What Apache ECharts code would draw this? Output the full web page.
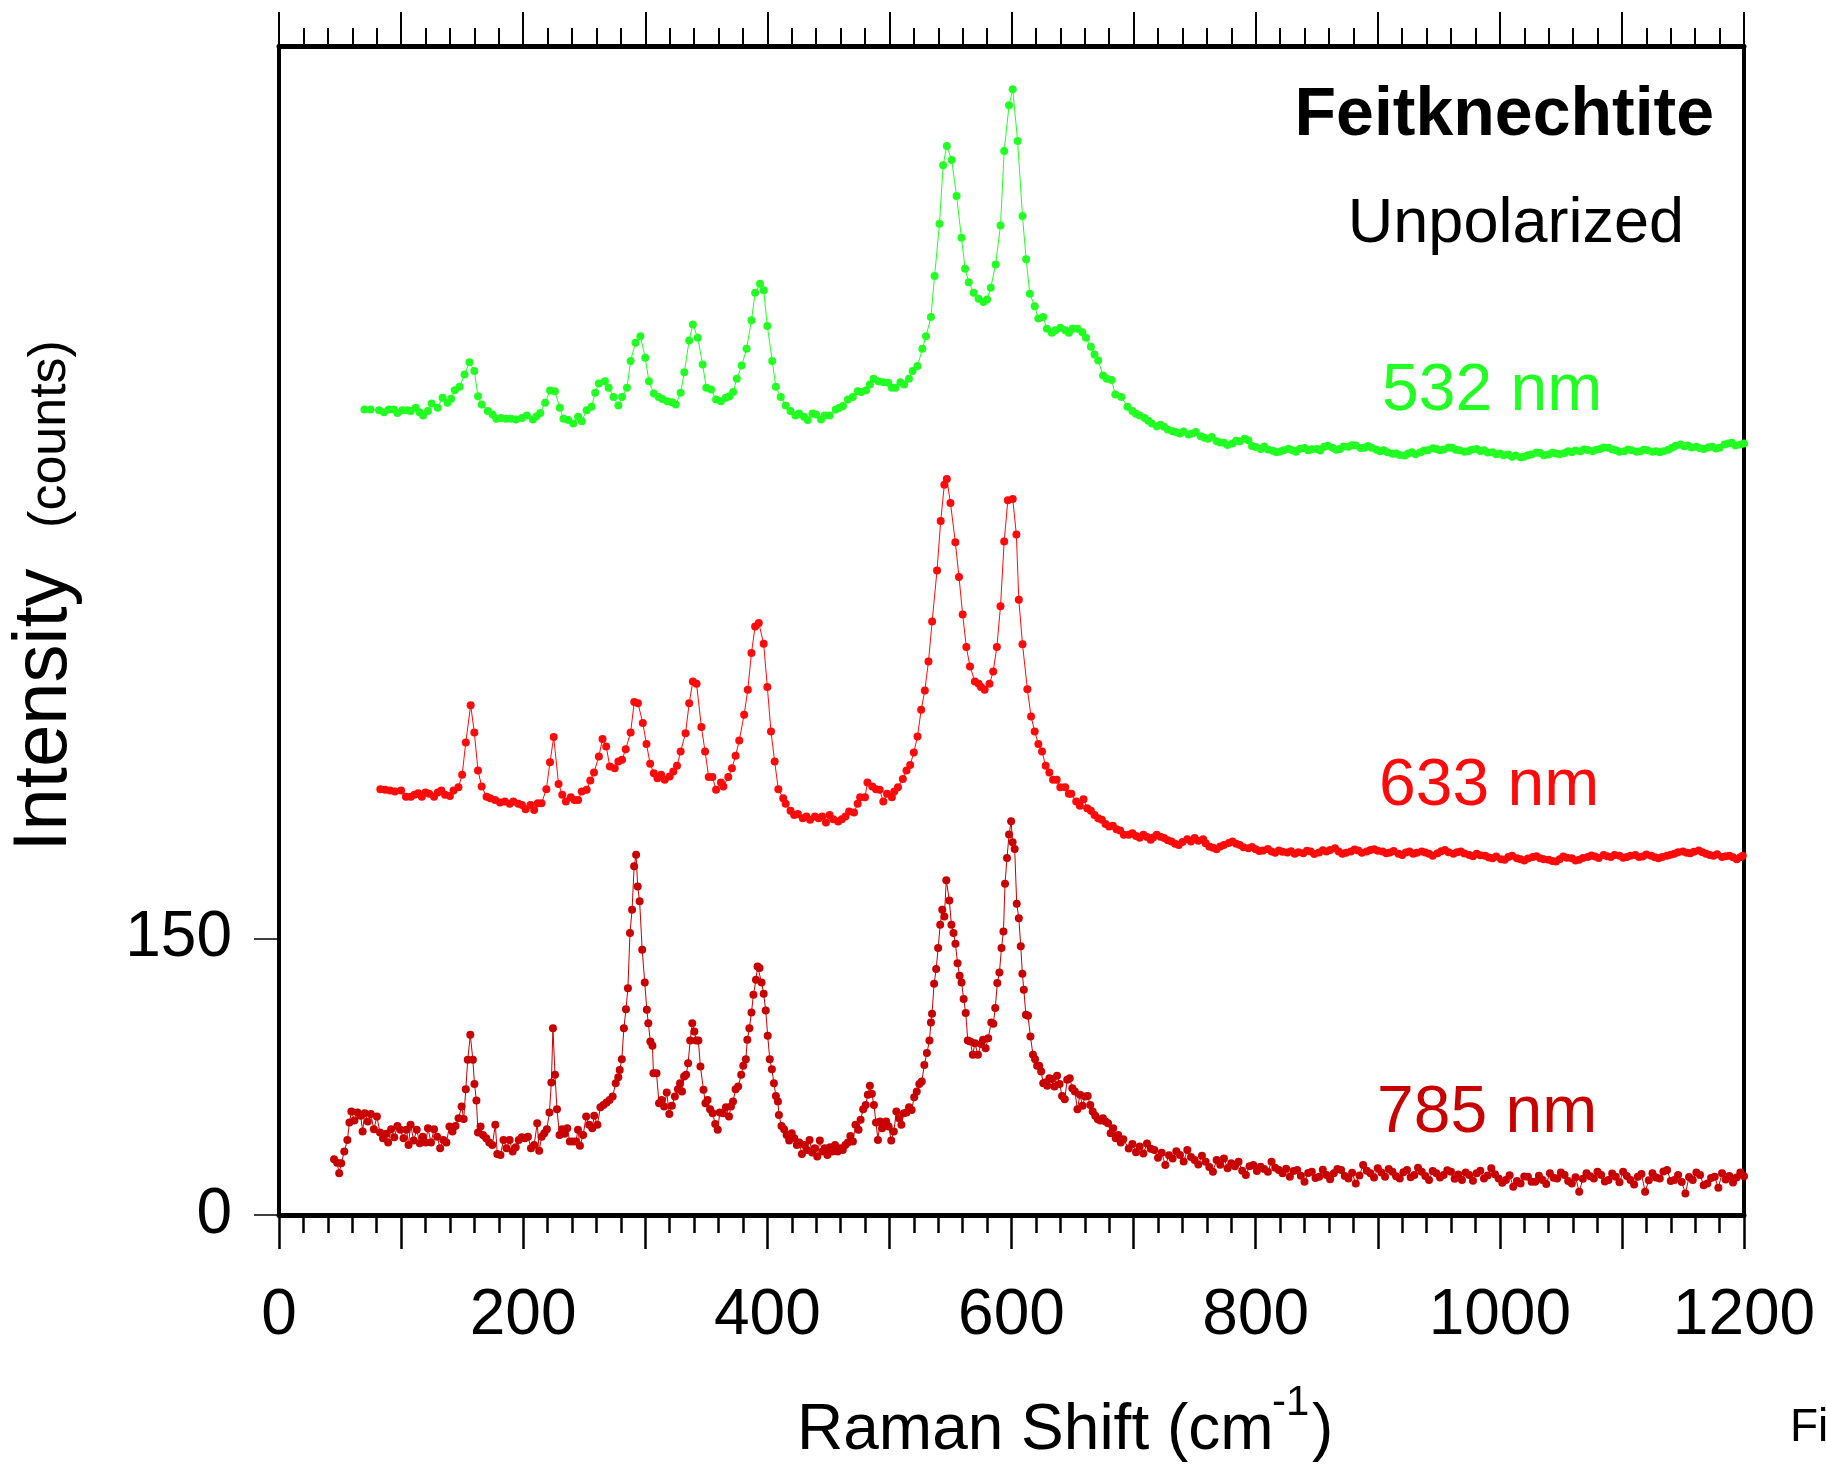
<!DOCTYPE html>
<html><head><meta charset="utf-8">
<script src="https://cdn.jsdelivr.net/npm/echarts@6/dist/echarts.min.js"></script>
<style>html,body{margin:0;padding:0;background:#fff}#c{width:1826px;height:1466px}</style>
</head><body><div id="c"></div>
<script>
// ---- data (Raman shift cm-1, intensity counts incl. vertical offsets as plotted) ----
const x532=[70,75,82,86,90,94,97,101,105,108,112,115,118,122,125,130,134,138,141,144,148,152,156,160,163,166,171,175,178,182,186,190,194,199,203,208,211,214,218,222,226,230,233,237,241,245,248,252,256,259,262,267,270,274,278,281,285,288,292,296,300,303,307,311,314,318,322,325,329,332,336,339,343,347,350,354,358,362,366,369,372,375,379,383,387,390,394,397,400,404,407,411,415,419,423,426,430,433,437,440,444,447,451,456,459,462,466,470,474,477,481,484,487,491,495,499,502,505,509,512,516,519,523,527,530,534,537,541,544,547,551,555,559,562,565,569,573,577,580,583,587,591,594,598,601,605,609,612,615,619,622,626,629,633,636,640,644,647,650,654,658,661,665,668,671,675,678,682,685,690,695,
699,702,705,709,712,715,719,722,725,728,732,735,738,741,745,748,751,755,758,761,764,768,771,774,777,781,784,787,791,794,797,800,804,807,810,814,817,820,823,827,830,833,836,840,843,846,850,853,856,859,863,866,869,872,876,879,882,886,889,892,895,899,902,905,908,912,915,918,922,925,928,931,935,938,941,945,948,951,954,958,961,964,967,971,974,977,981,984,987,990,994,997,1000,1003,1007,1010,1013,1017,1020,1023,1026,1030,1033,1036,1040,1043,1046,1049,1053,1056,1059,1062,1066,1069,1072,1076,1079,1082,1085,1089,1092,1095,1098,1102,1105,1108,1112,1115,1118,1121,1125,1128,1131,1134,1138,1141,1144,1148,1151,1154,1157,1161,1164,1167,1171,1174,1177,1180,1184,1187,1190,1193,1197,1200];
const y532=[436.9,436.9,436.5,435.4,436.9,436.9,435.0,436.5,436.5,436.0,437.8,435.4,433.6,436.0,440.1,437.8,443.2,440.5,442.7,447.3,449.2,455.8,462.5,457.7,444.1,439.6,436.0,434.2,431.8,432.3,431.8,431.8,431.4,432.3,433.6,431.4,433.2,435.0,440.5,447.2,446.8,437.8,431.8,431.1,429.3,432.9,430.5,436.5,438.3,445.9,451.0,452.2,448.6,443.7,439.0,443.7,448.6,463.1,473.0,476.6,464.9,452.2,445.5,443.7,442.6,441.4,440.8,439.6,445.9,457.1,474.3,483.0,475.8,461.3,448.6,447.7,442.3,441.4,443.2,444.1,446.3,453.5,460.7,469.8,485.3,500.2,505.0,501.6,482.1,463.1,449.2,443.7,439.0,436.0,433.6,434.7,432.9,431.1,434.7,434.1,431.4,433.6,433.6,436.9,437.8,438.7,442.3,443.7,446.8,446.3,447.3,450.4,453.5,452.2,451.7,451.3,448.6,448.6,451.7,450.4,453.5,457.7,460.4,469.8,476.6,487.0,509.2,537.6,569.3,579.8,572.2,552.6,530.0,513.2,505.9,500.2,496.9,495.1,496.5,502.9,515.5,536.7,577.1,601.8,610.5,582.5,541.8,518.3,499.6,492.9,486.2,487.0,480.6,478.5,479.9,481.2,479.9,478.5,480.6,480.6,478.8,475.8,470.9,466.7,463.5,455.3,453.5,452.8,445.0,443.7,438.3,
436.0,434.5,433.6,432.3,430.8,429.3,427.8,428.6,427.5,426.0,425.1,424.5,423.8,424.9,423.3,423.9,424.6,422.4,421.5,421.0,422.0,419.7,419.0,418.8,417.6,418.4,419.9,419.7,421.0,420.2,417.0,416.5,415.5,416.8,415.2,414.5,413.7,414.1,414.8,415.6,414.8,414.0,415.5,416.0,414.8,415.3,415.5,414.6,416.6,417.2,416.1,415.0,415.5,416.8,416.6,417.5,417.3,416.0,416.1,417.0,416.1,415.0,414.2,414.8,413.7,412.8,413.0,412.2,411.9,413.0,413.7,412.6,413.7,414.6,414.8,415.9,415.5,414.7,415.2,416.3,416.1,415.0,414.8,413.9,414.2,415.0,415.5,414.4,414.8,413.6,413.7,412.6,413.0,412.1,412.4,411.3,411.9,410.9,411.2,412.0,412.4,413.6,413.3,412.0,412.4,413.4,413.0,412.6,413.3,414.2,413.7,414.6,414.2,415.2,414.9,414.2,415.0,415.5,416.3,416.1,415.3,414.8,414.0,414.2,415.1,414.8,413.9,414.2,415.0,414.8,414.0,414.2,413.7,414.2,415.0,416.1,417.2,417.9,416.9,417.3,416.2,416.6,415.8,415.5,416.4,416.6,415.7,416.1,417.9,418.4,418.8,417.3,417.9,418.4];

const x633=[83,87,91,95,100,104,108,111,114,117,120,123,127,130,133,136,140,143,147,150,153,157,160,163,166,170,173,177,181,185,189,192,196,199,202,206,209,212,215,219,222,225,229,232,235,239,242,245,248,252,255,258,262,265,268,271,275,278,281,284,288,291,294,298,301,304,307,310,313,316,320,323,326,329,333,336,339,342,346,349,352,355,358,362,364,368,371,374,377,381,384,387,390,393,397,400,403,406,409,413,415,419,422,425,429,432,435,439,442,445,448,451,454,458,461,464,467,471,474,476,480,482,486,489,492,495,498,502,504,507,511,514,517,520,523,526,529,532,535,539,542,545,547,550,554,557,560,563,566,570,573,575,578,582,585,588,591,594,597,601,604,606,609,613,616,619,622,625,628,631,634,637,640,644,647,649,653,656,659,662,665,668,671,674,677,680,683,686,689,692,
696,699,702,705,708,711,714,716,719,722,725,728,731,734,737,740,744,747,750,753,757,759,762,765,768,771,774,778,781,784,787,790,794,797,800,803,806,810,813,816,819,822,826,829,832,835,839,842,845,848,852,855,858,861,865,868,871,874,878,881,884,887,891,894,897,900,904,907,910,913,917,920,923,926,929,932,936,939,942,945,949,952,955,958,962,965,968,971,975,978,981,984,988,991,994,997,1001,1004,1007,1010,1014,1017,1020,1023,1027,1030,1033,1036,1040,1043,1046,1049,1052,1055,1059,1062,1065,1068,1072,1075,1078,1081,1085,1088,1091,1094,1098,1101,1104,1107,1111,1114,1117,1120,1124,1127,1130,1133,1137,1140,1143,1146,1150,1153,1156,1159,1163,1166,1169,1172,1175,1178,1182,1185,1188,1191,1194,1197,1199];
const y633=[230.9,230.6,230.2,229.7,230.2,226.9,226.9,227.9,228.8,226.9,229.1,228.4,226.9,229.1,230.2,227.9,227.3,230.2,232.0,238.7,256.3,276.5,261.7,241.1,232.4,226.9,226.0,225.1,223.7,224.2,223.0,224.2,223.0,222.4,220.1,222.4,219.7,223.3,223.3,230.9,245.6,259.2,233.8,227.9,224.2,226.6,225.1,225.1,229.7,230.6,235.6,240.0,248.7,258.1,254.1,243.2,242.3,246.0,246.9,252.6,261.7,278.2,277.6,266.8,255.4,244.7,239.6,236.9,238.7,236.0,237.8,240.5,243.6,251.4,261.3,277.6,289.4,288.1,264.6,251.4,237.5,237.5,230.6,234.6,232.4,237.5,242.3,249.1,257.4,271.3,284.8,304.8,319.2,321.0,309.8,286.3,262.2,245.9,230.9,226.0,223.0,219.3,217.0,217.5,215.2,216.1,214.3,216.1,215.2,216.1,212.9,217.0,214.7,213.4,214.7,216.1,218.8,218.3,223.0,226.6,226.6,234.6,232.4,230.9,230.6,224.2,228.4,226.6,229.7,232.0,236.4,241.1,244.1,250.9,259.5,274.0,284.5,300.2,321.9,349.6,376.4,396.1,399.2,386.2,364.8,346.0,325.7,308.0,297.5,289.4,288.1,286.3,284.8,288.1,294.8,308.0,330.1,365.3,387.6,388.3,369.0,333.7,309.6,285.2,270.4,262.2,255.5,251.4,243.6,240.0,236.0,236.0,232.0,232.0,228.4,228.4,224.2,221.9,225.5,220.6,219.3,217.0,215.2,214.3,212.1,210.7,211.1,209.2,208.5,206.2,
206.2,207.0,205.6,204.6,206.2,205.0,203.5,204.8,206.2,205.1,204.4,203.2,202.5,201.4,200.7,202.3,203.8,202.6,204.4,203.0,203.8,201.6,199.8,199.2,198.4,199.9,200.7,201.8,202.5,201.3,200.7,199.5,198.9,199.6,198.4,197.4,197.7,198.5,197.1,196.4,197.7,197.0,196.6,197.3,195.9,196.8,196.2,197.6,197.1,195.8,196.6,197.8,197.1,198.0,198.9,197.2,195.9,196.4,197.1,198.2,197.7,196.5,197.1,197.9,198.4,197.6,197.1,196.2,196.6,197.4,195.9,195.2,196.6,197.2,195.9,196.4,197.1,196.6,195.9,194.9,196.2,197.3,198.0,196.8,195.9,196.7,197.1,196.0,195.3,194.6,195.9,195.1,194.8,193.9,193.5,194.4,193.0,192.6,194.1,194.8,193.5,193.0,192.2,193.3,194.1,194.6,193.5,192.9,192.6,192.0,191.7,193.0,194.4,193.8,193.5,192.2,192.6,193.6,194.1,195.0,194.4,193.6,195.3,194.6,194.1,195.2,194.8,193.7,194.1,194.9,195.3,194.2,194.4,195.5,194.8,194.0,193.5,194.2,194.8,195.4,195.9,196.8,197.1,196.5,196.2,197.0,197.7,196.8,195.9,195.3,194.8,195.6,194.1,194.6,194.8,194.0,193.0,194.0,194.8];

const x785=[45.1,47.6,49.3,51,53.5,56,57.7,59.3,61.8,64.3,66.9,68.5,70.2,72.7,75.2,77.7,80.2,82.7,85.2,87.8,89.4,91.9,94.4,97,99.4,102,104.5,106.1,107.8,110.3,112.8,115.3,117.8,120.3,122,124.5,127,129.5,132,134.6,137.1,139.6,142.1,144.6,147.1,149.6,151.3,153,154.6,156.7,158.8,160.1,161.7,163,165.1,167.1,169.7,172.2,174.7,177.2,178.8,181.4,183.9,186.4,188.9,191.4,193.9,196.4,198.9,201.4,203.9,206.4,209,211.5,213.1,215.2,217.3,219.4,221.5,223.1,224.4,226.1,227.7,229.8,231.9,234,236.1,238.2,240.7,243.2,244.9,246.5,249.1,251.6,254.1,256.6,258.2,260.8,263.3,265.8,268.3,270.8,273.3,275.8,277.9,279.1,280.8,282.5,284.2,285.8,287.5,289.2,290.9,292.5,293.8,295.4,297.5,299.6,301.3,302.5,304.2,305.9,306.7,309.2,311.3,313.4,315.5,317.6,319.7,321.8,324.3,326.8,328.5,330.1,331.8,333.5,335.1,336.8,338.5,340.2,341.8,343.5,345.2,347.7,349.3,351,353.1,355.2,357.3,359.4,361.1,363.6,366.1,368.6,370.2,371.9,374,376.1,378.6,380.3,382.4,383.6,385.3,387,388.6,390.7,392,393.6,395.3,397,398.7,400.3,402,403.7,405.4,407,408.7,409.5,411.6,413.7,415.8,417.9,420,422.1,424.2,426.2,428.3,430.4,432.5,434.6,436.7,438.8,440.9,443,445.1,447.1,449.2,451.3,453.4,455.5,457.6,459.7,461.8,463.9,466,468,470.1,472.2,474.7,476.4,478.5,480.6,482.3,484,485.6,487.3,489,490.6,492.3,494,495.7,497.3,499.4,501.5,503.6,505.7,507.8,509.8,511.9,514,516.1,518.2,520.3,522.4,524.5,526.5,528.6,530.7,532.8,534,534.9,536.6,538.3,539.9,541.6,543.3,545,546.6,549.1,550.8,552.5,554.1,555.8,557.5,559.1,560.8,562.5,564.2,566.2,568.3,570,572.5,575.1,576.7,578.8,580.9,583.4,585.1,586.7,588.4,590.1,591.8,593.4,594.7,596.3,598,599.7,600.9,602.6,604.3,606,607.6,608.9,610.1,611.8,613.5,615.5,617.6,619.3,621,622.7,624.3,626,627.7,629.3,631,633.1,635.2,637.3,639.4,641.4,643.6,645.6,647.7,649.8,651.9,654,656.1,658.2,660.3,662.4,664.5,666.5,668.6,670.7,672.8,674.9,677,679.1,681.2,683.3,685.4,687.4,689.5,691.6,
696,699,702,705,708,711,714,717,720,723,726,729,732,735,738,741,744,747,750,753,756,759,762,765,768,771,774,777,780,783,786,789,792,795,798,801,804,807,810,813,816,819,822,825,828,831,834,837,840,843,846,849,852,855,858,861,864,867,870,873,876,879,882,885,888,891,894,897,900,903,906,909,912,915,918,921,924,927,930,933,936,939,942,945,948,951,954,957,960,963,966,969,972,975,978,981,984,987,990,993,996,999,1002,1005,1008,1011,1014,1017,1020,1023,1026,1029,1032,1035,1038,1041,1044,1047,1050,1053,1056,1059,1062,1065,1068,1071,1074,1077,1080,1083,1086,1089,1092,1095,1098,1101,1104,1107,1110,1113,1116,1119,1122,1125,1128,1131,1134,1137,1140,1143,1146,1149,1152,1155,1158,1161,1164,1167,1170,1173,1176,1179,1182,1185,1188,1191,1194,1197,1200];
const y785=[30.2,28.4,22.6,28.1,34.4,40.7,50.1,56.1,51.2,55.6,53.8,45.3,55.2,50.7,54.8,46.5,53.4,44.7,41.6,44,39.3,46.5,42.2,48.3,46.2,41.6,46.2,38,48.9,40.4,46.2,38.9,42.5,39.3,47.1,39.3,46.5,42.5,36.2,40.7,39.3,48,45.3,48.3,52.5,58.8,52,68.2,84.2,97.7,84.2,71.1,62.1,44.7,48,43.4,41.6,39.3,38,48.9,33.1,32.6,40.7,36.2,40.7,34.4,36.8,40.7,42.2,41.6,42.5,36.2,38,49.8,34.9,42.5,44.3,46.5,55.6,71.8,101.3,76,57.4,43.4,46.5,44,47.1,39.8,39.8,39.8,46.2,37.5,43.4,53.4,48.9,47.1,53.8,48.9,58.5,59.7,61,62.4,64.2,71.5,74.7,78.7,84.5,101.3,111.6,123,152.9,165.6,189.1,195.4,178.2,170.1,143.8,126.1,111.3,104,94.1,91.8,76.9,76.9,60.6,62.4,58.8,66.4,54.8,59.2,64.2,68.2,71.5,67,75.1,76,82.3,94.6,104,99.5,94.6,94.6,80.5,67.9,60.6,62.4,57.4,55.2,49.4,46.2,55.6,55.2,58.5,53.4,58.8,61.5,68.2,69.7,76,80.9,84.5,95,101.3,109.8,119.4,127.6,134.8,133.9,126.1,120,110.9,97.2,84.5,79.1,71.5,64.6,61.5,54.3,48.3,46.5,43.4,40.4,44.3,41.6,38,39.3,33.1,38,35.3,40.7,33.9,36.2,31.7,40.4,34.4,36.2,32.6,36.8,34.4,38,34.4,36.2,35.3,38,39.3,42.9,39.8,48.9,46.2,51.6,57.4,59.7,65.2,70.1,65.7,59.7,50.1,40.7,50.7,47.1,48.9,50.7,48,40.4,45.3,56.1,52.5,48.9,55.2,55.6,58.5,57,63.9,67,71.1,72.4,81.4,87.8,94.6,104.4,109.1,125.4,133.4,144.8,157.4,165.6,161.9,181.5,170.6,157.4,152.9,147.1,136.6,129.7,126.1,117.1,109.5,94.6,94.1,86.9,93.2,86.9,92.8,95,90.5,95.9,104.4,103.7,112.2,125.8,131.5,144.8,153.8,179.7,193.6,206.3,213.5,202.1,198.5,168.8,161,145.7,130.8,122.1,108.6,108,96.8,86.9,84.5,80.9,80.9,77.8,71.5,71.8,70.1,74.2,73.7,69.7,75.5,71.1,64.6,62.8,73.3,74.2,68.8,67,57.4,65.2,59.2,64.2,64.6,59.7,56.1,53.8,51.9,51.2,52.5,50.7,49.8,44.3,47.1,41.6,43.4,39.3,41.1,
36.1,38.5,34.0,37.2,33.4,38.8,35.9,35.2,31.0,33.8,
27.1,32.4,30.7,34.6,32.5,29.0,35.2,31.4,29.8,27.4,
32.1,28.9,26.0,23.5,29.8,27.2,30.7,25.3,28.1,26.4,
28.9,24.0,21.7,26.5,27.1,23.8,26.2,24.9,23.5,28.9,
25.6,24.4,22.6,25.1,20.7,23.9,24.4,21.3,18.1,22.8,
23.5,20.1,20.7,24.6,21.7,19.4,22.6,25.0,24.4,21.2,
19.8,22.9,17.1,21.4,27.1,24.0,22.6,20.3,25.3,23.1,
20.7,24.9,23.5,21.0,19.8,23.2,24.4,20.5,21.7,25.6,
23.5,21.1,19.0,23.8,22.6,20.4,21.7,24.3,23.5,19.6,
22.0,19.0,23.1,21.7,18.6,22.6,24.0,19.8,21.4,25.3,
22.1,19.8,17.5,19.0,21.6,15.3,18.4,17.1,20.9,20.7,
18.0,18.1,21.3,19.0,16.8,22.6,20.2,19.8,23.0,21.7,
18.4,17.1,20.5,12.6,19.7,22.6,21.0,19.8,23.4,21.7,
18.2,19.0,22.5,20.7,17.8,23.5,21.1,19.0,16.5,20.7,
22.3,12.6,18.9,22.6,20.4,19.8,23.6,24.4,18.5,19.0,
21.7,17.9,11.7,20.6,19.0,23.0,21.7,16.2,17.1,20.1,
20.7,14.8,22.6,19.3,21.2,17.6,20.4,23.1,21.0];

const xTickLabels=[0,200,400,600,800,1000,1200];
const yTickValues=[0,150];
const seriesNames=['532 nm','633 nm','785 nm'];
const seriesColors=['#22ff22','#ff0a0a','#c80000'];

// ---- chart ----
const FONT='"Liberation Sans", Arial, Helvetica, sans-serif';
const chart=echarts.init(document.getElementById('c'),null,{renderer:'canvas'});
function pairs(xs,ys){return xs.map((x,i)=>[x,ys[i]]);}
function mk(i,xs,ys){
  const c=seriesColors[i];
  return {name:seriesNames[i],type:'line',data:pairs(xs,ys),symbol:'circle',symbolSize:8,showSymbol:true,
    showAllSymbol:true,itemStyle:{color:c},lineStyle:{color:c,width:1},emphasis:{disabled:true},z:3};
}
const axisCommon={type:'value',min:0,max:1200,interval:100,splitLine:{show:false},
  axisLine:{show:true,onZero:false,lineStyle:{color:'#000',width:5}},
  axisTick:{show:true,length:34,lineStyle:{color:'#000',width:2.5}},
  minorTick:{show:true,splitNumber:5,length:18,lineStyle:{color:'#000',width:2.5}}};
function txt(text,x,y,size,color,align,opts){
  return Object.assign({type:'text',x:x,y:y,silent:true,z:10,
    style:{text:text,fontSize:size,fontFamily:FONT,fontWeight:(opts&&opts.bold)?'bold':'normal',fill:color,align:align,verticalAlign:'middle'}},
    (opts&&opts.rotation)?{rotation:opts.rotation}:{});
}
const option={
  animation:false,
  backgroundColor:'#fff',
  grid:{left:279,right:82,top:46,bottom:251,containLabel:false},
  xAxis:[
    Object.assign({},axisCommon,{position:'bottom',
      axisLabel:{show:true,margin:69,fontSize:64,color:'#000',fontFamily:FONT,hideOverlap:false,
        formatter:function(v){return xTickLabels.indexOf(v)>=0?String(v):'';}}}),
    Object.assign({},axisCommon,{position:'top',axisLabel:{show:false},
      axisTick:{show:true,length:34,lineStyle:{color:'#000',width:2}},
      minorTick:{show:true,splitNumber:5,length:18,lineStyle:{color:'#000',width:2}}})
  ],
  yAxis:[
    {type:'value',min:0,max:634,position:'left',splitLine:{show:false},
     axisLine:{show:true,onZero:false,lineStyle:{color:'#000',width:4}},
     axisTick:{show:true,length:25,customValues:yTickValues,lineStyle:{color:'#000',width:1.5}},
     axisLabel:{show:true,margin:47,customValues:yTickValues,fontSize:64,color:'#000',fontFamily:FONT}},
    {type:'value',min:0,max:634,position:'right',splitLine:{show:false},
     axisLine:{show:true,onZero:false,lineStyle:{color:'#000',width:4}},
     axisTick:{show:false},axisLabel:{show:false}}
  ],
  series:[mk(0,x532,y532),mk(1,x633,y633),mk(2,x785,y785)],
  graphic:[
    txt('Feitknechtite',1714,116,68,'#000','right',{bold:true}),
    txt('Unpolarized',1684,225,63,'#000','right'),
    txt(seriesNames[0],1382,392,66,seriesColors[0],'left'),
    txt(seriesNames[1],1379,787,66,seriesColors[1],'left'),
    txt(seriesNames[2],1377,1114,66,seriesColors[2],'left'),
    txt('Raman Shift (cm',797,1431,64,'#000','left'),
    txt('-1',1272,1403,42,'#000','left'),
    txt(')',1312,1431,64,'#000','left'),
    txt('Figure',1790,1428,46,'#000','left'),
    txt('Intensity',45,710,76,'#000','center',{rotation:Math.PI/2}),
    txt('(counts)',51,434,52,'#000','center',{rotation:Math.PI/2})
  ]
};
chart.setOption(option);
</script></body></html>
